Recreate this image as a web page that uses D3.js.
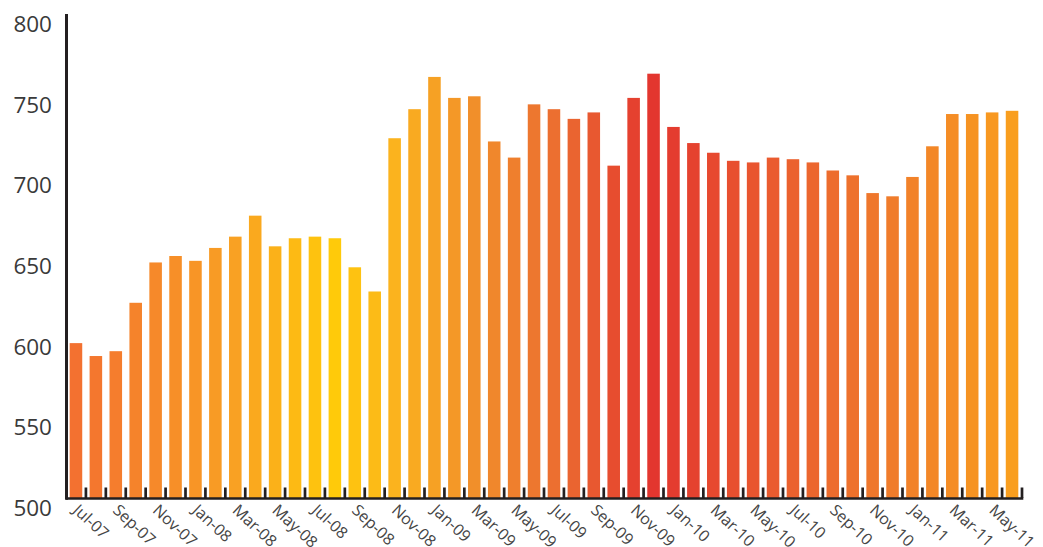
<!DOCTYPE html>
<html>
<head>
<meta charset="utf-8">
<script src="https://cdn.jsdelivr.net/npm/d3@7"></script>
<style>
  html, body { margin: 0; padding: 0; background: #fff; }
  svg { display: block; font-family: "Open Sans", "Noto Sans", sans-serif; }
</style>
</head>
<body>
<svg id="chart" width="1043" height="547"></svg>
<script>
// Monthly values, Jul-07 through Jun-11
const months = [
  "Jul-07","Aug-07","Sep-07","Oct-07","Nov-07","Dec-07",
  "Jan-08","Feb-08","Mar-08","Apr-08","May-08","Jun-08","Jul-08","Aug-08","Sep-08","Oct-08","Nov-08","Dec-08",
  "Jan-09","Feb-09","Mar-09","Apr-09","May-09","Jun-09","Jul-09","Aug-09","Sep-09","Oct-09","Nov-09","Dec-09",
  "Jan-10","Feb-10","Mar-10","Apr-10","May-10","Jun-10","Jul-10","Aug-10","Sep-10","Oct-10","Nov-10","Dec-10",
  "Jan-11","Feb-11","Mar-11","Apr-11","May-11","Jun-11"
];
const values = [
  596, 588, 591, 621, 646, 650,
  647, 655, 662, 675, 656, 661, 662, 661, 643, 628, 723, 741,
  761, 748, 749, 721, 711, 744, 741, 735, 739, 706, 748, 763,
  730, 720, 714, 709, 708, 711, 710, 708, 703, 700, 689, 687,
  699, 718, 738, 738, 739, 740
];
const yTicks = [500, 550, 600, 650, 700, 750, 800];
// every other month gets a label
const xTickLabels = months.filter((d, i) => i % 2 === 0);

const svg = d3.select("#chart");
const plotLeft = 66, plotRight = 1022, plotTop = 14, plotBottom = 498;

const x = d3.scaleBand()
  .domain(months)
  .range([plotLeft, plotRight])
  .paddingInner(0.37)
  .paddingOuter(0.185);

const y = d3.scaleLinear()
  .domain([500, 800])
  .range([plotBottom, plotTop]);

// warm gradient running along the months
const color = d3.scaleLinear()
  .domain([0, 8, 13, 16, 20, 24, 29, 35, 41, 47])
  .range(["#f37130", "#f9a123", "#ffca0a", "#fbb31e", "#f18f2a", "#ec6f30",
          "#e3362f", "#ea5b2f", "#f07c2b", "#f99e1e"])
  .interpolate(d3.interpolateRgb);

// bars
svg.append("g")
  .selectAll("rect")
  .data(values)
  .join("rect")
  .attr("x", (d, i) => x(months[i]))
  .attr("y", d => y(d))
  .attr("width", x.bandwidth())
  .attr("height", d => plotBottom - y(d) + 1)
  .attr("fill", (d, i) => color(i));

// x axis: baseline plus upward ticks at band boundaries
const step = x.step();
const edge = d => x(d) - (step - x.bandwidth()) / 2 + step;
const xg = svg.append("g");
xg.selectAll("line.tick")
  .data(months)
  .join("line")
  .attr("class", "tick")
  .attr("x1", d => edge(d))
  .attr("x2", d => edge(d))
  .attr("y1", plotBottom - 10.5)
  .attr("y2", plotBottom)
  .attr("stroke", "#231f20")
  .attr("stroke-width", 2.7);
xg.append("line")
  .attr("x1", plotLeft)
  .attr("x2", plotRight + 1.3)
  .attr("y1", plotBottom + 0.5)
  .attr("y2", plotBottom + 0.5)
  .attr("stroke", "#231f20")
  .attr("stroke-width", 2.6);

xg.selectAll("text")
  .data(xTickLabels)
  .join("text")
  .attr("transform", d => `translate(${x(d) + x.bandwidth() / 2 + 4},${plotBottom + 5}) rotate(43)`)
  .attr("dy", "0.72em")
  .attr("text-anchor", "start")
  .attr("font-size", 16)
  .attr("fill", "#454545")
  .text(d => d);

// y axis line and labels
svg.append("line")
  .attr("x1", plotLeft + 0.5)
  .attr("x2", plotLeft + 0.5)
  .attr("y1", plotTop)
  .attr("y2", plotBottom + 1.8)
  .attr("stroke", "#231f20")
  .attr("stroke-width", 3);

svg.append("g")
  .selectAll("text")
  .data(yTicks)
  .join("text")
  .attr("x", 52)
  .attr("y", d => y(d) + 10)
  .attr("dy", "0.35em")
  .attr("text-anchor", "end")
  .attr("font-size", 22.5)
  .attr("fill", "#3a3a3a")
  .text(d => d);
</script>
</body>
</html>
